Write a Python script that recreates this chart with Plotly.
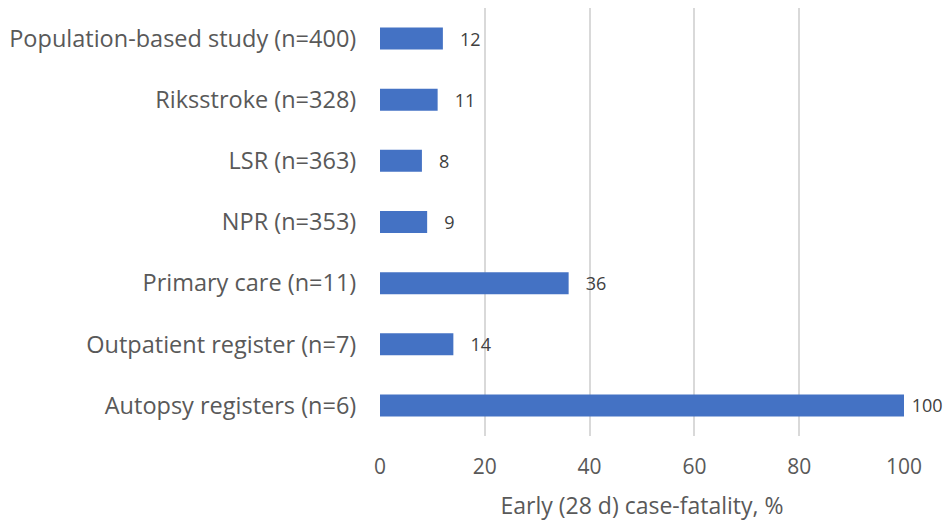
import plotly.graph_objects as go

categories = [
    "Population-based study (n=400)",
    "Riksstroke (n=328)",
    "LSR (n=363)",
    "NPR (n=353)",
    "Primary care (n=11)",
    "Outpatient register (n=7)",
    "Autopsy registers (n=6)",
]
fatality = [12, 11, 8, 9, 36, 14, 100]
x_ticks = [0, 20, 40, 60, 80, 100]

font_name = "Open Sans"
grey = "#595959"

# short labels sit a bit further from the bar end, like the original
labels = [(" " if v >= 100 else "   ") + str(v) for v in fatality]

fig = go.Figure()
fig.add_trace(go.Bar(
    y=categories,
    x=fatality,
    orientation="h",
    marker=dict(color="#4472C4", line=dict(width=0)),
    text=labels,
    textposition="outside",
    constraintext="none",
    cliponaxis=False,
    textfont=dict(family=font_name, size=18, color="#404040"),
))

# page body adds an 8px offset, so size and margins are shifted to compensate
fig.update_layout(
    width=943, height=515,
    margin=dict(l=372, r=47, t=0, b=87),
    paper_bgcolor="white",
    plot_bgcolor="white",
    bargap=0.64,
    showlegend=False,
    font=dict(family=font_name, color=grey, size=21),
)
fig.update_xaxes(
    range=[0, 100],
    tickvals=x_ticks,
    showgrid=True, gridcolor="#d9d9d9", gridwidth=1.5,
    zeroline=False, showline=False,
    ticks="outside", ticklen=12, tickcolor="rgba(0,0,0,0)",
    tickfont=dict(size=21, color=grey),
    title=dict(text="Early (28 d) case-fatality, %", font=dict(size=23, color=grey), standoff=18),
)
fig.update_yaxes(
    categoryorder="array",
    categoryarray=categories[::-1],
    showgrid=False, zeroline=False, showline=False,
    ticks="outside", ticklen=18, tickcolor="rgba(0,0,0,0)",
    tickfont=dict(size=23.5, color=grey),
)

fig.write_html("out.html")
